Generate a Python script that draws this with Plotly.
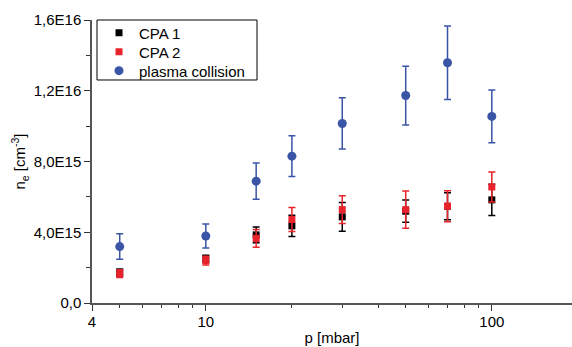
import plotly.graph_objects as go
import numpy as np

p = [5, 10, 15, 20, 30, 50, 70, 100]
cpa1 = [1.72e15, 2.50e15, 3.85e15, 4.36e15, 4.87e15, 5.19e15, 5.47e15, 5.83e15]
cpa1_err = [0.20e15, 0.20e15, 0.45e15, 0.60e15, 0.81e15, 0.63e15, 0.77e15, 0.89e15]
cpa2 = [1.66e15, 2.40e15, 3.65e15, 4.72e15, 5.28e15, 5.28e15, 5.47e15, 6.56e15]
cpa2_err = [0.22e15, 0.25e15, 0.50e15, 0.68e15, 0.79e15, 1.05e15, 0.87e15, 0.85e15]
plasma = [3.19e15, 3.79e15, 6.89e15, 8.30e15, 10.15e15, 11.73e15, 13.58e15, 10.55e15]
plasma_err = [0.72e15, 0.68e15, 1.03e15, 1.15e15, 1.45e15, 1.66e15, 2.08e15, 1.49e15]

y_tickvals = [0, 4e15, 8e15, 1.2e16, 1.6e16]
y_ticktext = ["0,0", "4,0E15", "8,0E15", "1,2E16", "1,6E16"]
x_tickvals = [4, 10, 100]
x_ticktext = ["4", "10", "100"]

BLACK = "#000000"
RED = "#e8232b"
BLUE = "#3a55a6"

fig = go.Figure()
series = [
    ("CPA 1", cpa1, cpa1_err, BLACK, "square", 7, "legend"),
    ("CPA 2", cpa2, cpa2_err, RED, "square", 7, "legend2"),
    ("plasma collision", plasma, plasma_err, BLUE, "circle", 9, "legend3"),
]
for name, y, e, c, sym, sz, lg in series:
    fig.add_trace(go.Scatter(
        x=p, y=y, mode="markers", name=name, legend=lg,
        marker=dict(color=c, symbol=sym, size=sz, line=dict(width=0)),
        error_y=dict(type="data", array=e, visible=True, color=c, thickness=1.5, width=3.5),
        cliponaxis=False,
    ))

# legend frame
fig.add_shape(type="rect", xref="paper", yref="paper",
              x0=0.0104, x1=0.34375, y0=0.788, y1=1.0,
              line=dict(color="black", width=1), fillcolor="rgba(0,0,0,0)", layer="above")

font_family = "Liberation Sans, Arial, sans-serif"
leg_common = dict(x=0.0146, xanchor="left", yanchor="middle", borderwidth=0,
                  bgcolor="rgba(0,0,0,0)", font=dict(size=15), itemwidth=30)
fig.update_layout(
    width=572, height=347,
    margin=dict(l=92, r=0, t=20, b=44),
    paper_bgcolor="white", plot_bgcolor="white",
    font=dict(family=font_family, size=15, color="black"),
    showlegend=True,
    legend=dict(y=0.954, **leg_common),
    legend2=dict(y=0.887, **leg_common),
    legend3=dict(y=0.820, **leg_common),
    xaxis=dict(
        type="log", range=[np.log10(4), 2.2804],
        tickvals=x_tickvals, ticktext=x_ticktext,
        ticks="outside", ticklen=6, tickwidth=1.2, tickcolor="#333",
        ticklabelstandoff=-2,
        showline=True, linecolor="#555", linewidth=1.5,
        showgrid=False, zeroline=False,
        minor=dict(tickvals=[5, 6, 7, 8, 9, 20, 30, 40, 50, 60, 70, 80, 90],
                   ticks="outside", ticklen=3, tickwidth=1.2, tickcolor="#333", showgrid=False),
        title=dict(text="p [mbar]", font=dict(size=15), standoff=4),
        tickfont=dict(size=15),
    ),
    yaxis=dict(
        range=[0, 1.6e16],
        tickvals=y_tickvals, ticktext=y_ticktext,
        ticks="outside", ticklen=6, tickwidth=1.2, tickcolor="#333",
        showline=True, linecolor="#555", linewidth=1.5,
        showgrid=False, zeroline=False,
        minor=dict(tickvals=[2e15, 6e15, 1e16, 1.4e16],
                   ticks="outside", ticklen=4, tickwidth=1.2, tickcolor="#333", showgrid=False),
        title=dict(text="n<sub>e</sub> [cm<sup>-3</sup>]", font=dict(size=15), standoff=4),
        tickfont=dict(size=15),
    ),
)

fig.write_html("out.html")
